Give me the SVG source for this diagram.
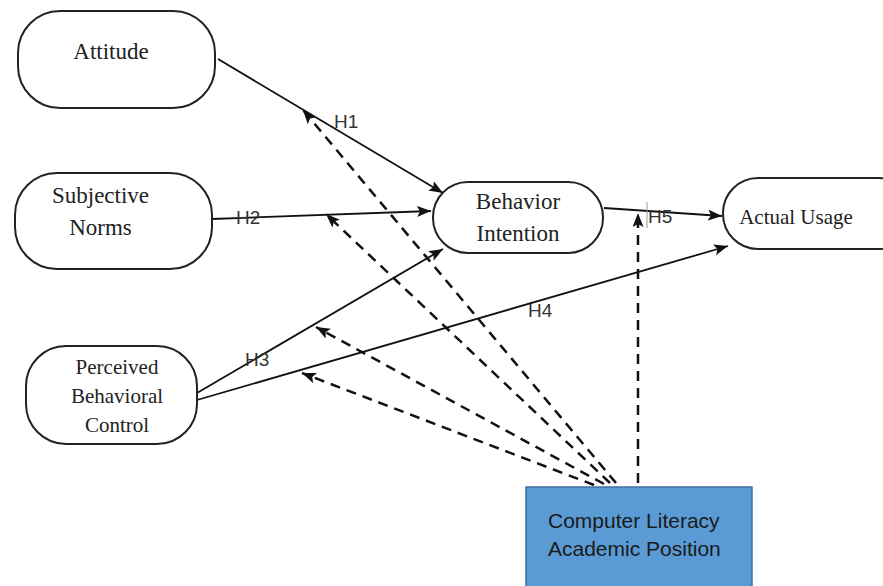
<svg xmlns="http://www.w3.org/2000/svg" width="883" height="586" viewBox="0 0 883 586">
<style>
.node{fill:#fff;stroke:#222;stroke-width:2}
.t{font-family:"Liberation Serif","Times New Roman",serif;fill:#222;text-anchor:middle}
.h{font-family:"Liberation Sans",Arial,sans-serif;font-size:19px;fill:#333}
.solid{stroke:#111;stroke-width:1.8;fill:none}
.dash{stroke:#111;stroke-width:2.5;fill:none;stroke-dasharray:10 7}
.box{fill:#5B9BD5;stroke:#41719C;stroke-width:1.5}
.bt{font-family:"Liberation Sans",Arial,sans-serif;font-size:21px;fill:#1a1a1a}
</style>
<defs>
<marker id="arr" markerUnits="userSpaceOnUse" markerWidth="15" markerHeight="12" refX="14" refY="5.5" orient="auto">
<path d="M0,0 L14,5.5 L0,11 L3,5.5 z" fill="#111"/>
</marker>
</defs>
<rect width="883" height="586" fill="#fff"/>
<g id="connectors">
<line class="solid" x1="218" y1="59" x2="443" y2="193" marker-end="url(#arr)"/>
<line class="solid" x1="212" y1="219" x2="431" y2="211" marker-end="url(#arr)"/>
<line class="solid" x1="197" y1="393" x2="443" y2="249" marker-end="url(#arr)"/>
<line class="solid" x1="197" y1="400" x2="728" y2="246" marker-end="url(#arr)"/>
<line class="solid" x1="604" y1="208" x2="722" y2="216" marker-end="url(#arr)"/>
<line class="dash" x1="616" y1="483" x2="303" y2="110" marker-end="url(#arr)"/>
<line class="dash" x1="610" y1="483" x2="326" y2="214" marker-end="url(#arr)"/>
<line class="dash" x1="604" y1="484" x2="316" y2="327" marker-end="url(#arr)"/>
<line class="dash" x1="594" y1="485" x2="302" y2="373" marker-end="url(#arr)"/>
<line class="dash" x1="638" y1="483" x2="638" y2="213" marker-end="url(#arr)"/>
<line x1="647" y1="202" x2="647" y2="228" stroke="#999" stroke-width="1"/>
<text class="h" x="334" y="128">H1</text>
<text class="h" x="236" y="224">H2</text>
<text class="h" x="245" y="366">H3</text>
<text class="h" x="528" y="317">H4</text>
<text class="h" x="648" y="223">H5</text>
</g>
<g id="attitude">
<rect class="node" x="18" y="11" width="197" height="97" rx="42" ry="42"/>
<text class="t" x="111" y="59" font-size="23">Attitude</text>
</g>
<g id="subjective-norms">
<rect class="node" x="15" y="173" width="197" height="96" rx="42" ry="42"/>
<text class="t" x="100.5" y="203" font-size="23">Subjective</text>
<text class="t" x="100.5" y="235" font-size="23">Norms</text>
</g>
<g id="perceived-behavioral-control">
<rect class="node" x="26" y="346" width="171" height="98" rx="40" ry="40"/>
<text class="t" x="117" y="374" font-size="21">Perceived</text>
<text class="t" x="117" y="403" font-size="21">Behavioral</text>
<text class="t" x="117" y="432" font-size="21">Control</text>
</g>
<g id="behavior-intention">
<rect class="node" x="433" y="182" width="170" height="71" rx="35" ry="35"/>
<text class="t" x="518" y="209" font-size="23">Behavior</text>
<text class="t" x="518" y="241" font-size="23">Intention</text>
</g>
<g id="actual-usage">
<rect class="node" x="723" y="178" width="190" height="71" rx="35" ry="35"/>
<text class="t" x="796" y="224" font-size="21">Actual Usage</text>
</g>
<g id="moderators">
<rect class="box" x="526" y="487" width="226" height="110"/>
<text class="bt" x="548" y="528">Computer Literacy</text>
<text class="bt" x="548" y="556">Academic Position</text>
</g>
</svg>
